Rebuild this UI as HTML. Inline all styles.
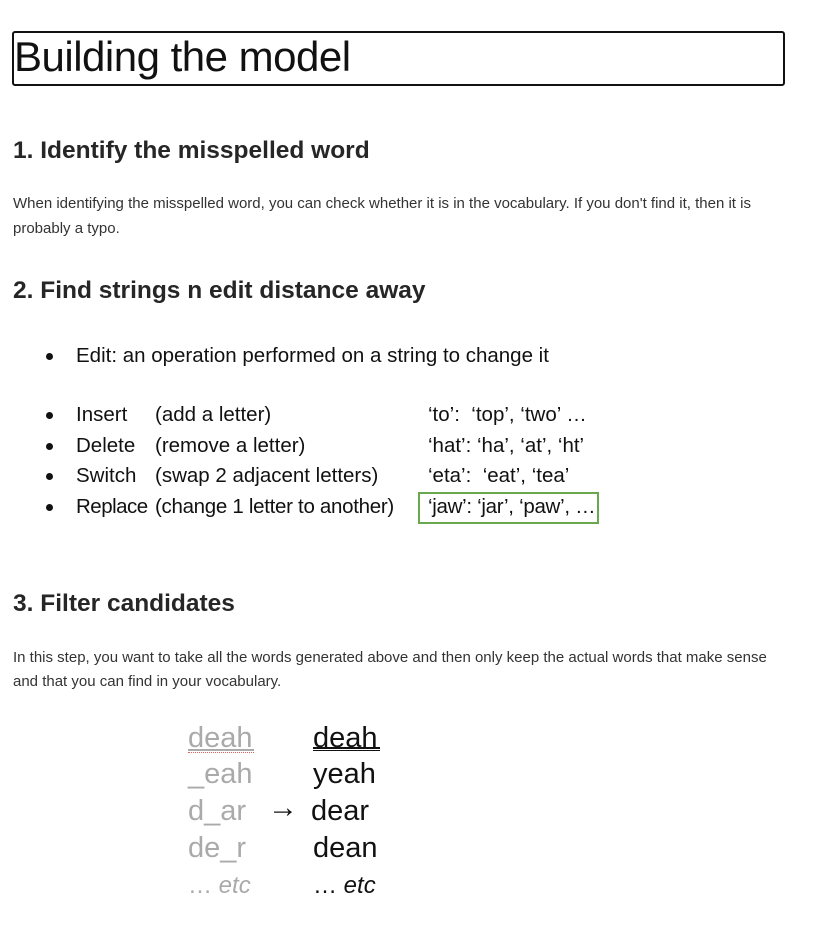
<!DOCTYPE html>
<html><head><meta charset="utf-8"><style>
body{margin:0;width:835px;height:932px;background:#fff;position:relative;font-family:"Liberation Sans",sans-serif;color:#222;overflow:hidden}
.a{position:absolute;white-space:nowrap}
.h{font-weight:bold;font-size:24.5px;line-height:30px;color:#262626}
.p{font-size:15px;line-height:20px;color:#333}
.b{font-size:20.5px;line-height:26px;color:#111}
.dot{position:absolute;width:7px;height:7px;border-radius:50%;background:#111}
.w{font-size:29px;line-height:36px}
.g{color:#aaa}
</style></head><body>
<div class="a" style="left:12px;top:31px;width:769px;height:51px;border:2px solid #111;border-radius:3px"></div>
<div class="a" style="left:14px;top:32px;font-size:42px;line-height:50px;color:#111;letter-spacing:-0.5px">Building the model</div>

<div class="a h" style="left:13px;top:136px">1. Identify the misspelled word</div>
<div class="a p" style="left:13px;top:194px">When identifying the misspelled word, you can check whether it is in the vocabulary. If you don't find it, then it is</div>
<div class="a p" style="left:13px;top:219px">probably a typo.</div>

<div class="a h" style="left:13px;top:276px">2. Find strings n edit distance away</div>

<div class="dot" style="left:46px;top:353px"></div>
<div class="a b" style="left:76px;top:343px">Edit: an operation performed on a string to change it</div>

<div class="dot" style="left:46px;top:412px"></div>
<div class="a b" style="left:76px;top:402px">Insert</div>
<div class="a b" style="left:155px;top:402px">(add a letter)</div>
<div class="a b" style="left:428px;top:402px">‘to’:&nbsp; ‘top’, ‘two’ …</div>

<div class="dot" style="left:46px;top:443px"></div>
<div class="a b" style="left:76px;top:433px">Delete</div>
<div class="a b" style="left:155px;top:433px">(remove a letter)</div>
<div class="a b" style="left:428px;top:433px">‘hat’: ‘ha’, ‘at’, ‘ht’</div>

<div class="dot" style="left:46px;top:473px"></div>
<div class="a b" style="left:76px;top:463px">Switch</div>
<div class="a b" style="left:155px;top:463px">(swap 2 adjacent letters)</div>
<div class="a b" style="left:428px;top:463px">‘eta’:&nbsp; ‘eat’, ‘tea’</div>

<div class="dot" style="left:46px;top:504px"></div>
<div class="a b" style="left:76px;top:494px;letter-spacing:-0.5px">Replace</div>
<div class="a b" style="left:155px;top:494px;letter-spacing:-0.3px">(change 1 letter to another)</div>
<div class="a" style="left:418px;top:492px;width:177px;height:28px;border:2px solid #6aa84f"></div>
<div class="a b" style="left:428px;top:494px;letter-spacing:-0.3px">‘jaw’: ‘jar’, ‘paw’, …</div>

<div class="a h" style="left:13px;top:589px">3. Filter candidates</div>
<div class="a p" style="left:13px;top:648px">In this step, you want to take all the words generated above and then only keep the actual words that make sense</div>
<div class="a p" style="left:13px;top:672px">and that you can find in your vocabulary.</div>

<div class="a w g" style="left:188px;top:720px">deah</div>
<div class="a" style="left:188px;top:749px;width:66px;height:2px;background:#aaa"></div>
<div class="a" style="left:188px;top:752px;width:66px;height:0;border-top:1px dotted #e06060"></div>
<div class="a w g" style="left:188px;top:756px">_eah</div>
<div class="a w g" style="left:188px;top:793px">d_ar</div>
<div class="a w g" style="left:188px;top:830px">de_r</div>
<div class="a w g" style="left:188px;top:868px;font-size:24px"><span>… </span><i>etc</i></div>

<div class="a" style="left:268px;top:790px;font-size:30px;line-height:36px;color:#111">→</div>

<div class="a w" style="left:313px;top:720px;color:#111">deah</div>
<div class="a" style="left:313px;top:747px;width:67px;height:2px;background:#111"></div>
<div class="a" style="left:313px;top:750px;width:67px;height:1px;background:#111"></div>
<div class="a w" style="left:313px;top:756px;color:#111">yeah</div>
<div class="a w" style="left:311px;top:793px;color:#111">dear</div>
<div class="a w" style="left:313px;top:830px;color:#111">dean</div>
<div class="a w" style="left:313px;top:868px;font-size:24px;color:#111">… <i>etc</i></div>
</body></html>
